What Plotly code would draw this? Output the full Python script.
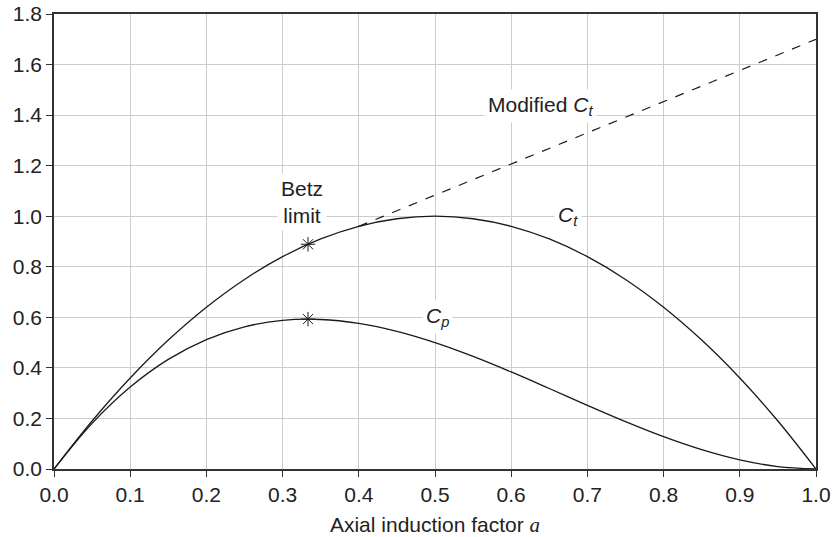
import plotly.graph_objects as go

# Axial induction factor samples
a_vals = [0.0, 0.05, 0.1, 0.15, 0.2, 0.25, 0.3, 0.35, 0.4, 0.45, 0.5,
          0.55, 0.6, 0.65, 0.7, 0.75, 0.8, 0.85, 0.9, 0.95, 1.0]
ct_vals = [0.0, 0.19, 0.36, 0.51, 0.64, 0.75, 0.84, 0.91, 0.96, 0.99, 1.0,
           0.99, 0.96, 0.91, 0.84, 0.75, 0.64, 0.51, 0.36, 0.19, 0.0]
cp_vals = [0.0, 0.1805, 0.324, 0.4335, 0.512, 0.5625, 0.588, 0.5915, 0.576, 0.5445, 0.5,
           0.4455, 0.384, 0.3185, 0.252, 0.1875, 0.128, 0.0765, 0.036, 0.0095, 0.0]
# Modified Ct (dashed)
mod_a = [0.4, 1.0]
mod_ct = [0.96, 1.70]
# Betz limit points
betz_a = [1/3, 1/3]
betz_c = [0.889, 0.593]

line_col = "#1a1a1a"
fig = go.Figure()
fig.add_trace(go.Scatter(x=mod_a, y=mod_ct, mode="lines",
                         line=dict(color=line_col, width=1.2, dash="dash"), hoverinfo="skip"))
fig.add_trace(go.Scatter(x=a_vals, y=ct_vals, mode="lines", line_shape="spline",
                         line=dict(color=line_col, width=1.3)))
fig.add_trace(go.Scatter(x=a_vals, y=cp_vals, mode="lines", line_shape="spline",
                         line=dict(color=line_col, width=1.3)))
fig.add_trace(go.Scatter(x=betz_a, y=betz_c, mode="markers",
                         marker=dict(symbol="asterisk-open", size=12, color=line_col,
                                     line=dict(color=line_col, width=1))))

font = dict(family="Liberation Sans, Arial, sans-serif", size=21, color="#222")
ann = [
    dict(x=0.325, y=1.055, text="Betz<br>limit"),
    dict(x=0.638, y=1.436, text="Modified <i>C</i><sub><i>t</i></sub>"),
    dict(x=0.675, y=1.0, text="<i>C</i><sub><i>t</i></sub>"),
    dict(x=0.503, y=0.6, text="<i>C</i><sub><i>p</i></sub>"),
]
annotations = [dict(xref="x", yref="y", showarrow=False, bgcolor="white",
                    font=font, borderpad=3, **d) for d in ann]

fig.update_layout(
    width=832, height=537,
    margin=dict(l=54, r=16, t=14, b=68, autoexpand=False),
    paper_bgcolor="white", plot_bgcolor="white",
    showlegend=False, font=font,
    annotations=annotations,
    xaxis=dict(range=[0, 1.0], dtick=0.1, tickformat=".1f", tickfont=font,
               showgrid=True, gridcolor="#cccccc", gridwidth=1, automargin=False,
               showline=True, linecolor="#333", linewidth=1.5, mirror=True,
               ticks="outside", ticklen=6, tickcolor="#333", zeroline=False,
               title=dict(text="Axial induction factor <span style='font-family:Liberation Serif, Times New Roman, serif'><i>a</i></span>",
                          font=font, standoff=12)),
    yaxis=dict(range=[0, 1.8], dtick=0.2, tickformat=".1f", tickfont=font,
               showgrid=True, gridcolor="#cccccc", gridwidth=1, automargin=False,
               showline=True, linecolor="#333", linewidth=1.5, mirror=True,
               ticks="outside", ticklen=6, tickcolor="#333", zeroline=False),
)
fig.write_html("out.html", config={"displayModeBar": False},
               post_script="document.body.style.margin='0';")
